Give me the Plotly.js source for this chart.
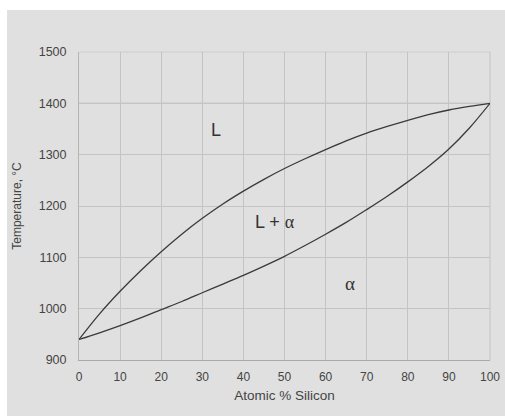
<!DOCTYPE html>
<html>
<head>
<meta charset="utf-8">
<script src="https://cdn.plot.ly/plotly-3.0.1.min.js"></script>
<style>html,body{margin:0;padding:0;background:#fff;}#chart{width:505px;height:416px;}</style>
</head>
<body>
<div id="chart"></div>
<script>
// Atomic % silicon
const siPct = [0, 5, 10, 15, 20, 25, 30, 35, 40, 45, 50, 55, 60, 65, 70, 75, 80, 85, 90, 95, 100];
// Liquidus temperature (°C)
const liquidus = [940, 990, 1034, 1074, 1111, 1145, 1176, 1204, 1229, 1252, 1273,
                  1292, 1310, 1327, 1342, 1355, 1367, 1378, 1387, 1394, 1400];
// Solidus temperature (°C)
const solidus = [940, 953, 967, 982, 998, 1014, 1031, 1048, 1065, 1083, 1102,
                 1123, 1145, 1168, 1193, 1219, 1247, 1277, 1311, 1352, 1400];
// Phase region labels
const regionText = ["L", "L + <span style=\"font-family:Liberation Serif\">α</span>",
                    "<span style=\"font-family:Liberation Serif\">α</span>"];
const regionX = [33.3, 47.7, 66];
const regionY = [1348, 1169, 1050];
const xTicks = [0, 10, 20, 30, 40, 50, 60, 70, 80, 90, 100];
const yTicks = [900, 1000, 1100, 1200, 1300, 1400, 1500];

const lineStyle = {color: '#3a3a3a', width: 1.3, shape: 'spline', smoothing: 1};
const data = [
  {x: siPct, y: liquidus, mode: 'lines', line: lineStyle, name: 'Liquidus', hoverinfo: 'x+y'},
  {x: siPct, y: solidus, mode: 'lines', line: lineStyle, name: 'Solidus', hoverinfo: 'x+y'}
];

const font = {family: 'Liberation Sans, Arial, sans-serif', color: '#444'};
const layout = {
  width: 505, height: 416,
  margin: {l: 79, r: 15, t: 52, b: 56, pad: 0},
  paper_bgcolor: '#ffffff',
  plot_bgcolor: 'rgba(0,0,0,0)',
  showlegend: false,
  font: font,
  xaxis: {
    range: [0, 100], tickvals: xTicks, ticks: '', showgrid: true, gridcolor: '#c4c4c4', gridwidth: 1,
    zeroline: false, showline: true, linecolor: '#a9a9a9', linewidth: 1, mirror: false,
    tickfont: {size: 12, color: '#444'}, ticklabelstandoff: 6,
    title: {text: 'Atomic % Silicon', font: {size: 13.5, color: '#444'}, standoff: 7}
  },
  yaxis: {
    range: [900, 1500], tickvals: yTicks, ticks: '', showgrid: true, gridcolor: '#c4c4c4', gridwidth: 1,
    zeroline: false, showline: true, linecolor: '#b5b5b5', linewidth: 1,
    tickfont: {size: 12.5, color: '#444'}, ticklabelstandoff: 9,
    title: {text: 'Temperature, °C', font: {size: 12, color: '#444'}, standoff: 14}
  },
  shapes: [
    {type: 'rect', xref: 'paper', yref: 'paper', x0: -72/411, x1: 1 + 15/411, y0: -56/308, y1: 1 + 42/308,
     fillcolor: '#e0e0e0', line: {width: 0}, layer: 'below'},
    {type: 'line', xref: 'paper', yref: 'paper', x0: 1, x1: 1, y0: 0, y1: 1, line: {color: '#c4c4c4', width: 1}, layer: 'below'},
    {type: 'line', xref: 'paper', yref: 'paper', x0: 0, x1: 1, y0: 1, y1: 1, line: {color: '#cdcdcd', width: 1}, layer: 'below'},
    {type: 'line', xref: 'paper', yref: 'y', x0: 0, x1: 1, y0: 1400, y1: 1400, line: {color: '#9a9a9a', width: 1}, layer: 'below'}
  ],
  annotations: regionText.map((t, i) => ({
    x: regionX[i], y: regionY[i], xref: 'x', yref: 'y', text: t, showarrow: false,
    font: {family: 'Liberation Sans, Arial, sans-serif', size: i === 2 ? 19 : 18, color: '#333'}
  }))
};
Plotly.newPlot('chart', data, layout, {displayModeBar: false, staticPlot: true});
</script>
</body>
</html>
